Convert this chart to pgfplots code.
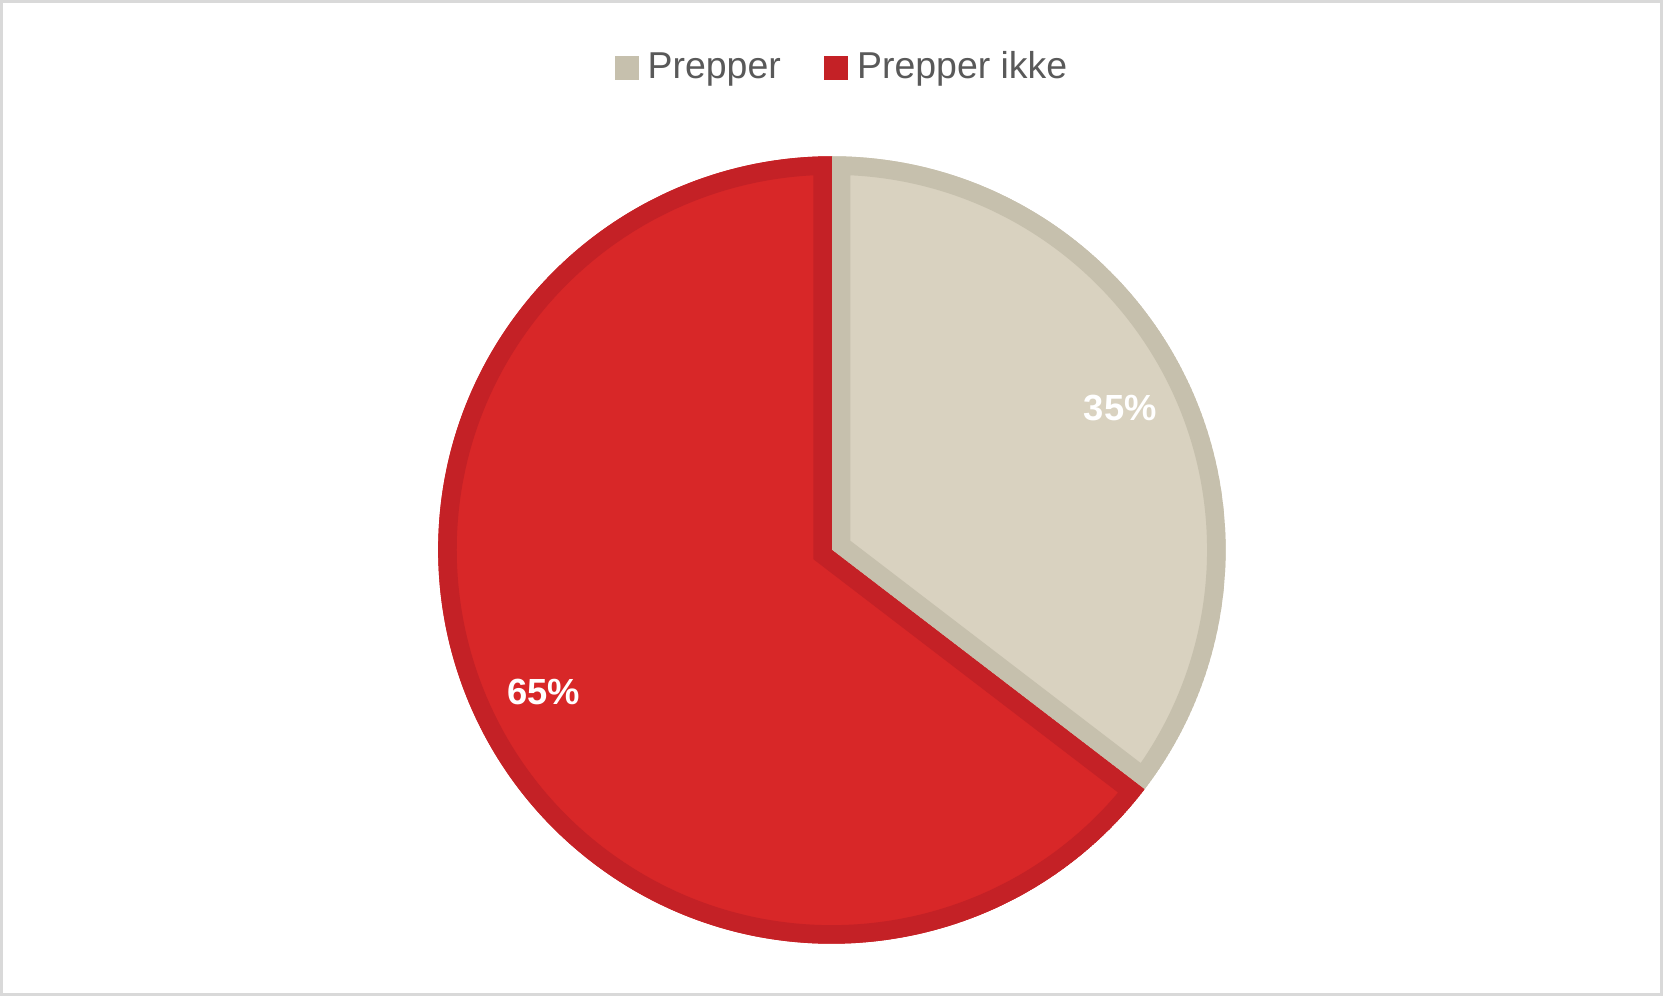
\documentclass[border=0pt]{standalone}
\usepackage{pgfplots}
\pgfplotsset{compat=1.18}
\usepackage{pgfplotstable}
\usepackage{fontspec}
\setmainfont{Liberation Sans}

\definecolor{beigefill}{HTML}{D9D2C0}
\definecolor{beigeedge}{HTML}{C6C0AD}
\definecolor{redfill}{HTML}{D82728}
\definecolor{rededge}{HTML}{C42126}
\definecolor{legtext}{HTML}{595959}
\definecolor{framegray}{HTML}{D9D9D9}

% share of respondents, in percent (labels are rounded)
\pgfplotstableread[col sep=comma]{
label,value
Prepper,35.4
Prepper ikke,64.6
}\piedata

\begin{document}
\begin{tikzpicture}
  \pgfplotstablegetelem{0}{value}\of\piedata \let\va\pgfplotsretval
  \pgfplotstablegetelem{1}{value}\of\piedata \let\vb\pgfplotsretval
  % slices run clockwise from 12 o'clock
  \pgfmathsetmacro\aA{90}
  \pgfmathsetmacro\aB{90-3.6*\va}
  \pgfmathsetmacro\aC{\aB-3.6*\vb}
  \pgfmathsetmacro\mA{(\aA+\aB)/2}
  \pgfmathsetmacro\mB{(\aB+\aC)/2}
  \pgfmathsetmacro\lAx{0.817*cos(\mA)}
  \pgfmathsetmacro\lAy{0.817*sin(\mA)}
  \pgfmathsetmacro\lBx{0.817*cos(\mB)}
  \pgfmathsetmacro\lBy{0.817*sin(\mB)}
  \pgfmathsetmacro\sAx{cos(\aA)}
  \pgfmathsetmacro\sAy{sin(\aA)}
  \pgfmathsetmacro\sBx{cos(\aB)}
  \pgfmathsetmacro\sBy{sin(\aB)}
  \begin{axis}[
    x=3.92cm, y=3.92cm,
    xmin=-2.117, xmax=2.125, ymin=-1.158, ymax=1.400,
    hide axis, clip=false,
    scale only axis,
    legend columns=2,
    legend image code/.code={\fill[#1] (0cm,-0.12cm) rectangle (0.24cm,0.12cm);},
    legend style={draw=none, fill=none, inner sep=0pt, outer sep=0pt,
      at={(axis cs:-0.552,1.224)}, anchor=west,
      font=\fontsize{10.6}{12}\selectfont, text=legtext,
      nodes={inner xsep=0.09cm, inner ysep=0.05cm},
      /tikz/every even column/.append style={column sep=0.34cm}},
  ]
    % frame
    \draw[framegray, line width=0.03cm] (axis cs:-2.109,-1.128) rectangle (axis cs:2.107,1.393);

    % slice 1: Prepper
    \begin{scope}
      \clip (axis cs:0,0) -- (axis cs:\sAx,\sAy) arc[start angle=\aA, end angle=\aB, radius=3.92cm] -- cycle;
      \filldraw[fill=beigefill, draw=beigeedge, line width=0.37cm, line join=miter]
        (axis cs:0,0) -- (axis cs:\sAx,\sAy) arc[start angle=\aA, end angle=\aB, radius=3.92cm] -- cycle;
    \end{scope}
    % slice 2: Prepper ikke
    \begin{scope}
      \clip (axis cs:0,0) -- (axis cs:\sBx,\sBy) arc[start angle=\aB, end angle=\aC, radius=3.92cm] -- cycle;
      \filldraw[fill=redfill, draw=rededge, line width=0.37cm, line join=miter]
        (axis cs:0,0) -- (axis cs:\sBx,\sBy) arc[start angle=\aB, end angle=\aC, radius=3.92cm] -- cycle;
    \end{scope}

    \node[text=white, font=\bfseries\fontsize{10.3}{12}\selectfont] at (axis cs:\lAx,\lAy)
      {\pgfmathprintnumber[fixed, precision=0, assume math mode=true]{\va}\%};
    \node[text=white, font=\bfseries\fontsize{10.3}{12}\selectfont] at (axis cs:\lBx,\lBy)
      {\pgfmathprintnumber[fixed, precision=0, assume math mode=true]{\vb}\%};

    \addlegendimage{fill=beigeedge, draw=none}
    \addlegendentry{Prepper}
    \addlegendimage{fill=rededge, draw=none}
    \addlegendentry{Prepper ikke}
  \end{axis}
\end{tikzpicture}
\end{document}
